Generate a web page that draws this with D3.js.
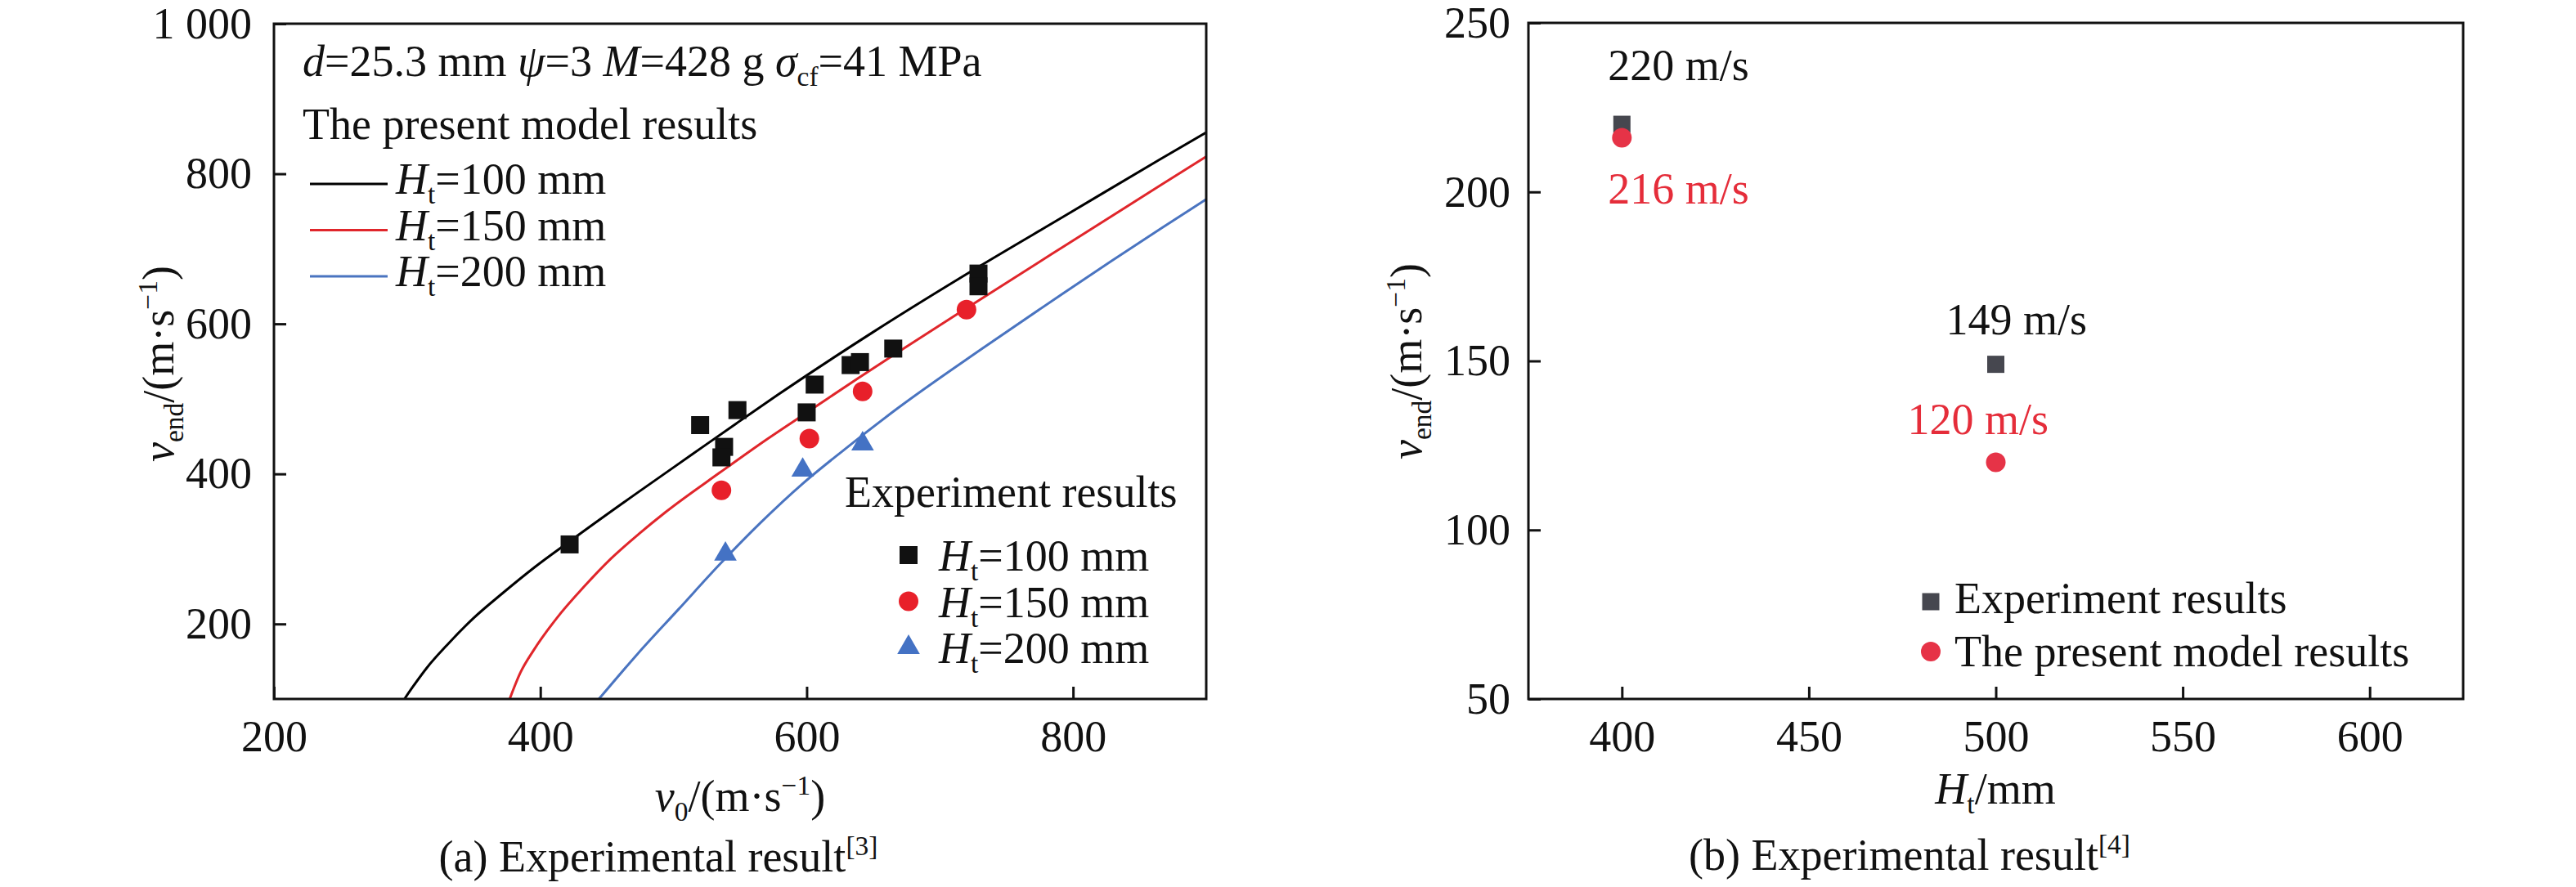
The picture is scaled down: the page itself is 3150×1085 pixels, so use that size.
<!DOCTYPE html>
<html>
<head>
    <meta charset="utf-8">
    <title>v_end vs v0 and Ht</title>
    <script type="text/javascript" src="https://cdn.jsdelivr.net/npm/d3@7/dist/d3.min.js"></script>
    <style>
        body { margin: 0; background: #fff; }
        text { font-family: "Liberation Serif", "Times New Roman", serif; fill: #111; }
    </style>
</head>

<body>

<script type="text/javascript">
    // ---- (a) model curves ----
    var curveHt = [100, 150, 200];
    var curveV0_100 = [298, 305, 315, 330, 350, 371, 396, 422, 473, 514, 547, 578, 649, 731, 792, 866, 900];
    var curveVe_100 = [100, 118, 142, 172, 208, 240, 276, 310, 375, 426, 467, 505, 588, 678, 742, 820, 855];
    var curveV0_150 = [377, 385, 395, 412, 433, 453, 474, 494, 535, 570, 602, 639, 670, 721, 792, 866, 900];
    var curveVe_150 = [100, 135, 165, 207, 250, 287, 320, 349, 402, 446, 484, 528, 564, 622, 702, 785, 823];
    var curveV0_200 = [444, 473, 504, 535, 566, 597, 628, 668, 731, 792, 866, 900];
    var curveVe_200 = [100, 160, 220, 280, 336, 387, 432, 487, 566, 640, 727, 766];

    // ---- (a) experiment points ----
    var expV0_100 = [422, 520, 548, 538, 536, 600, 606, 633, 640, 665, 729, 729];
    var expVe_100 = [306, 465, 485, 436, 422, 482, 519, 545, 549, 567, 667, 650];
    var expV0_150 = [536, 602, 642, 720];
    var expVe_150 = [378, 447, 510, 619];
    var expV0_200 = [539, 597, 642];
    var expVe_200 = [293, 405, 440];

    var ticksA_x = [200, 400, 600, 800];
    var ticksA_y = [200, 400, 600, 800, 1000];

    // ---- (b) ----
    var heightsB = [400, 500];
    var expB = [220, 149];
    var modelB = [216, 120];
    var ticksB_x = [400, 450, 500, 550, 600];
    var ticksB_y = [50, 100, 150, 200, 250];

    var W = 3150, H = 1085, FS = 54;
    var svg = d3.select("body").append("svg").attr("width", W).attr("height", H);

    // text with italic / sub / sup parts
    function rich(g, x, y, parts, opt) {
        opt = opt || {};
        var t = g.append("text").attr("x", x).attr("y", y)
            .style("font-size", (opt.size || FS) + "px")
            .attr("text-anchor", opt.anchor || "start");
        if (opt.fill) t.style("fill", opt.fill);
        if (opt.transform) t.attr("transform", opt.transform);
        var shift = 0;
        parts.forEach(function (p) {
            var s = t.append("tspan").text(p.t);
            if (p.i) s.style("font-style", "italic");
            var target = p.sub ? 12 : (p.sup ? -20 : 0);
            if (target - shift !== 0) s.attr("dy", target - shift);
            shift = target;
            if (p.sub || p.sup) s.style("font-size", "0.62em");
        });
        return t;
    }

    function zip(a, b) { return a.map(function (v, i) { return [v, b[i]]; }); }

    // ================= (a) =================
    var xa = d3.scaleLinear().domain([200, 900]).range([335, 1475]);
    var ya = d3.scaleLinear().domain([100, 1000]).range([855, 29]);
    var ga = svg.append("g");

    ga.append("clipPath").attr("id", "clipA").append("rect")
        .attr("x", 335).attr("y", 29).attr("width", 1140).attr("height", 826);

    var line = d3.line().x(function (d) { return xa(d[0]); }).y(function (d) { return ya(d[1]); })
        .curve(d3.curveMonotoneX);
    var curveColors = ["#000000", "#e0262b", "#4a74c0"];
    var curves = [zip(curveV0_100, curveVe_100), zip(curveV0_150, curveVe_150), zip(curveV0_200, curveVe_200)];
    ga.append("g").attr("clip-path", "url(#clipA)").selectAll("path").data(curves).enter()
        .append("path").attr("d", line).attr("fill", "none")
        .attr("stroke", function (d, i) { return curveColors[i]; }).attr("stroke-width", 3);

    // axes
    ga.append("g").attr("transform", "translate(0,855)")
        .call(d3.axisBottom(xa).tickValues(ticksA_x).tickSizeInner(-15).tickSizeOuter(0).tickPadding(26));
    ga.append("g").attr("transform", "translate(335,0)")
        .call(d3.axisLeft(ya).tickValues(ticksA_y).tickSizeInner(-15).tickSizeOuter(0).tickPadding(27)
            .tickFormat(function (d) { return d === 1000 ? "1 000" : d; }));

    // experiment markers
    var sqA = d3.symbol().type(d3.symbolSquare).size(22 * 22);
    var trA = d3.symbol().type(d3.symbolTriangle).size(330);
    ga.append("g").selectAll("path").data(zip(expV0_100, expVe_100)).enter().append("path")
        .attr("d", sqA).attr("fill", "#111")
        .attr("transform", function (d) { return "translate(" + xa(d[0]) + "," + ya(d[1]) + ")"; });
    ga.append("g").selectAll("circle").data(zip(expV0_150, expVe_150)).enter().append("circle")
        .attr("r", 12).attr("fill", "#e8202a")
        .attr("cx", function (d) { return xa(d[0]); }).attr("cy", function (d) { return ya(d[1]); });
    ga.append("g").selectAll("path").data(zip(expV0_200, expVe_200)).enter().append("path")
        .attr("d", trA).attr("fill", "#4472c4")
        .attr("transform", function (d) { return "translate(" + xa(d[0]) + "," + ya(d[1]) + ")"; });

    // frame
    ga.append("rect").attr("x", 335).attr("y", 29).attr("width", 1140).attr("height", 826)
        .attr("fill", "none").attr("stroke", "#111").attr("stroke-width", 3);

    // header text
    rich(ga, 370, 93, [
        {t: "d", i: true}, {t: "=25.3 mm "}, {t: "ψ", i: true}, {t: "=3 "},
        {t: "M", i: true}, {t: "=428 g "}, {t: "σ", i: true}, {t: "cf", sub: true}, {t: "=41 MPa"}
    ]);
    rich(ga, 370, 170, [{t: "The present model results"}]);

    // model legend
    curveHt.forEach(function (h, i) {
        var ly = 225 + i * 56.5;
        ga.append("line").attr("x1", 379).attr("x2", 474).attr("y1", ly).attr("y2", ly)
            .attr("stroke", curveColors[i]).attr("stroke-width", 3);
        rich(ga, 484, ly + 12, [{t: "H", i: true}, {t: "t", sub: true}, {t: "=" + h + " mm"}]);
    });

    // experiment legend
    rich(ga, 1033, 620, [{t: "Experiment results"}]);
    curveHt.forEach(function (h, i) {
        var ly = 679 + i * 56.5;
        var mx = 1111;
        if (i === 0) ga.append("path").attr("d", sqA).attr("fill", "#111")
            .attr("transform", "translate(" + mx + "," + ly + ")");
        if (i === 1) ga.append("circle").attr("cx", mx).attr("cy", ly).attr("r", 12).attr("fill", "#e8202a");
        if (i === 2) ga.append("path").attr("d", trA).attr("fill", "#4472c4")
            .attr("transform", "translate(" + mx + "," + ly + ")");
        rich(ga, 1148, ly + 19, [{t: "H", i: true}, {t: "t", sub: true}, {t: "=" + h + " mm"}]);
    });

    // axis titles
    rich(ga, 905, 992, [{t: "v", i: true}, {t: "0", sub: true}, {t: "/(m·s"}, {t: "−1", sup: true}, {t: ")"}],
        {anchor: "middle"});
    rich(ga, 0, 0, [{t: "v", i: true}, {t: "end", sub: true}, {t: "/(m·s"}, {t: "−1", sup: true}, {t: ")"}],
        {anchor: "middle", transform: "translate(212,445) rotate(-90)"});
    rich(ga, 805, 1066, [{t: "(a) Experimental result"}, {t: "[3]", sup: true}], {anchor: "middle"});

    // ================= (b) =================
    var xb = d3.scaleLinear().domain([375, 625]).range([1869, 3012]);
    var yb = d3.scaleLinear().domain([50, 250]).range([855, 28]);
    var gb = svg.append("g");

    gb.append("g").attr("transform", "translate(0,855)")
        .call(d3.axisBottom(xb).tickValues(ticksB_x).tickSizeInner(-15).tickSizeOuter(0).tickPadding(26));
    gb.append("g").attr("transform", "translate(1869,0)")
        .call(d3.axisLeft(yb).tickValues(ticksB_y).tickSizeInner(-15).tickSizeOuter(0).tickPadding(22));

    var sqB = d3.symbol().type(d3.symbolSquare).size(21 * 21);
    gb.append("g").selectAll("path").data(zip(heightsB, expB)).enter().append("path")
        .attr("d", sqB).attr("fill", "#46474f")
        .attr("transform", function (d) { return "translate(" + xb(d[0]) + "," + yb(d[1]) + ")"; });
    gb.append("g").selectAll("circle").data(zip(heightsB, modelB)).enter().append("circle")
        .attr("r", 12).attr("fill", "#e63347")
        .attr("cx", function (d) { return xb(d[0]); }).attr("cy", function (d) { return yb(d[1]); });

    // value labels
    var expDy = [-54, -37], modDy = [80, -35], expDx = [-17, -61], modDx = [-17, -108];
    heightsB.forEach(function (h, i) {
        rich(gb, xb(h) + expDx[i], yb(expB[i]) + expDy[i], [{t: expB[i] + " m/s"}]);
        rich(gb, xb(h) + modDx[i], yb(modelB[i]) + modDy[i], [{t: modelB[i] + " m/s"}], {fill: "#e52d3a"});
    });

    gb.append("rect").attr("x", 1869).attr("y", 28).attr("width", 1143).attr("height", 827)
        .attr("fill", "none").attr("stroke", "#111").attr("stroke-width", 3);

    // legend
    gb.append("path").attr("d", sqB).attr("fill", "#46474f").attr("transform", "translate(2361,736)");
    rich(gb, 2390, 750, [{t: "Experiment results"}]);
    gb.append("circle").attr("cx", 2361).attr("cy", 797).attr("r", 12).attr("fill", "#e63347");
    rich(gb, 2390, 815, [{t: "The present model results"}]);

    rich(gb, 2440, 983, [{t: "H", i: true}, {t: "t", sub: true}, {t: "/mm"}], {anchor: "middle"});
    rich(gb, 0, 0, [{t: "v", i: true}, {t: "end", sub: true}, {t: "/(m·s"}, {t: "−1", sup: true}, {t: ")"}],
        {anchor: "middle", transform: "translate(1738,442) rotate(-90)"});
    rich(gb, 2335, 1064, [{t: "(b) Experimental result"}, {t: "[4]", sup: true}], {anchor: "middle"});

    // axis styling
    svg.selectAll(".domain").remove();
    svg.selectAll(".tick line").attr("stroke", "#111").attr("stroke-width", 3);
    svg.selectAll(".tick text").style("font-size", FS + "px")
        .style("font-family", "'Liberation Serif', 'Times New Roman', serif").attr("fill", "#111");
</script>

</body>
</html>
